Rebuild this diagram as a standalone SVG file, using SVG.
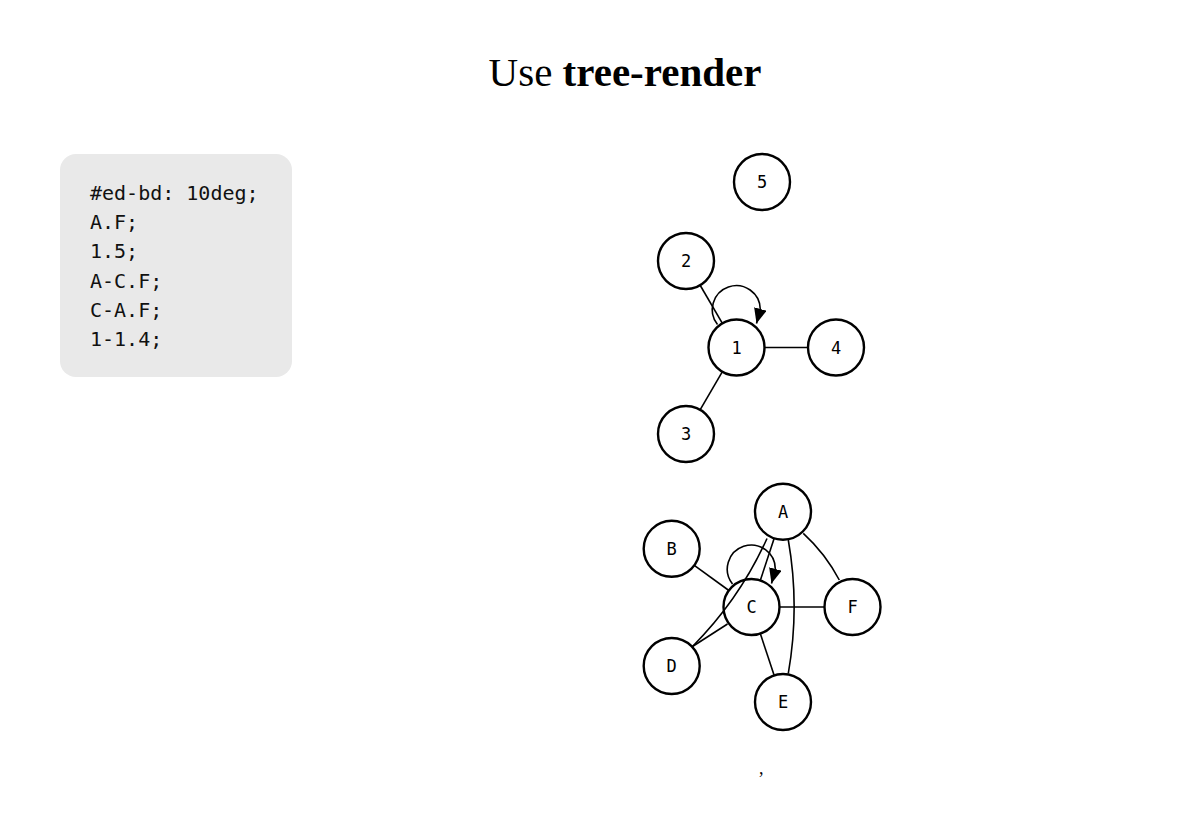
<svg xmlns="http://www.w3.org/2000/svg" width="1191" height="832" viewBox="0 0 1191 832">
<style>
.node circle{fill:#fff;stroke:#000;stroke-width:2.4}
.node text{font-family:"DejaVu Sans Mono",monospace;font-size:17px;text-anchor:middle;fill:#000}
.edge{fill:none;stroke:#000;stroke-width:1.6}
.code{font-family:"DejaVu Sans Mono",monospace;font-size:20px;fill:#111}
</style>
<defs>
<marker id="arr" markerUnits="userSpaceOnUse" markerWidth="16" markerHeight="14" refX="15" refY="6.5" orient="auto">
<path d="M0,0 L15,6.5 L0,13 z" fill="#000"/>
</marker>
</defs>
<rect width="1191" height="832" fill="#fff"/>
<text x="625" y="86" font-family="Liberation Serif,serif" font-size="41" text-anchor="middle">Use <tspan font-weight="bold">tree-render</tspan></text>
<g id="code">
<rect x="60" y="154" width="232" height="223" rx="16" fill="#e9e9e9"/>
<text class="code" x="90" y="200">#ed-bd: 10deg;</text>
<text class="code" x="90" y="229.2">A.F;</text>
<text class="code" x="90" y="258.4">1.5;</text>
<text class="code" x="90" y="287.6">A-C.F;</text>
<text class="code" x="90" y="316.8">C-A.F;</text>
<text class="code" x="90" y="346">1-1.4;</text>
</g>
<g id="node-5" class="node"><circle cx="762" cy="182" r="28"/><text x="762" y="188">5</text></g>
<g id="node-2" class="node"><circle cx="686" cy="261" r="28"/><text x="686" y="267">2</text></g>
<g id="node-1" class="node"><circle cx="736.5" cy="347.5" r="28"/><text x="736.5" y="353.5">1</text></g>
<g id="node-4" class="node"><circle cx="836" cy="347.5" r="28"/><text x="836" y="353.5">4</text></g>
<g id="node-3" class="node"><circle cx="686" cy="434" r="28"/><text x="686" y="440">3</text></g>
<g id="node-A" class="node"><circle cx="783" cy="511.7" r="28"/><text x="783" y="517.7">A</text></g>
<g id="node-B" class="node"><circle cx="671.7" cy="548.8" r="28"/><text x="671.7" y="554.8">B</text></g>
<g id="node-C" class="node"><circle cx="751.5" cy="607" r="28"/><text x="751.5" y="613">C</text></g>
<g id="node-F" class="node"><circle cx="852.5" cy="607" r="28"/><text x="852.5" y="613">F</text></g>
<g id="node-D" class="node"><circle cx="671.7" cy="666" r="28"/><text x="671.7" y="672">D</text></g>
<g id="node-E" class="node"><circle cx="783" cy="702" r="28"/><text x="783" y="708">E</text></g>
<g id="connectors">
<path class="edge" d="M700,285 L722.4,323.3"/>
<path class="edge" d="M722.4,371.7 L700.1,409.8"/>
<path class="edge" d="M764.5,347.5 L808,347.5"/>
<path class="edge" marker-end="url(#arr)" d="M717.5,324.5 A24,24 0 1 1 760.3,309.5 L756.5,323.5"/>
<path class="edge" d="M694.3,565.3 L728.9,590.5"/>
<path class="edge" d="M779.5,607 L824.5,607"/>
<path class="edge" d="M760.3,633.6 L774.2,675.4"/>
<path class="edge" d="M774.2,538.3 L760.3,580.4"/>
<path class="edge" d="M767,538.5 Q739.6,599.3 692.5,646.5"/>
<path class="edge" d="M727.5,624 L692.5,646.5"/>
<path class="edge" d="M788.3,540 Q800,606.7 788.3,673.3"/>
<path class="edge" d="M803.3,533.3 Q825.4,553.5 839.3,580"/>
<path class="edge" marker-end="url(#arr)" d="M732.5,584 A24,24 0 1 1 775.3,569.5 L771.5,583.5"/>
</g>
<text x="759" y="774" font-family="Liberation Serif,serif" font-size="18">,</text>
</svg>
